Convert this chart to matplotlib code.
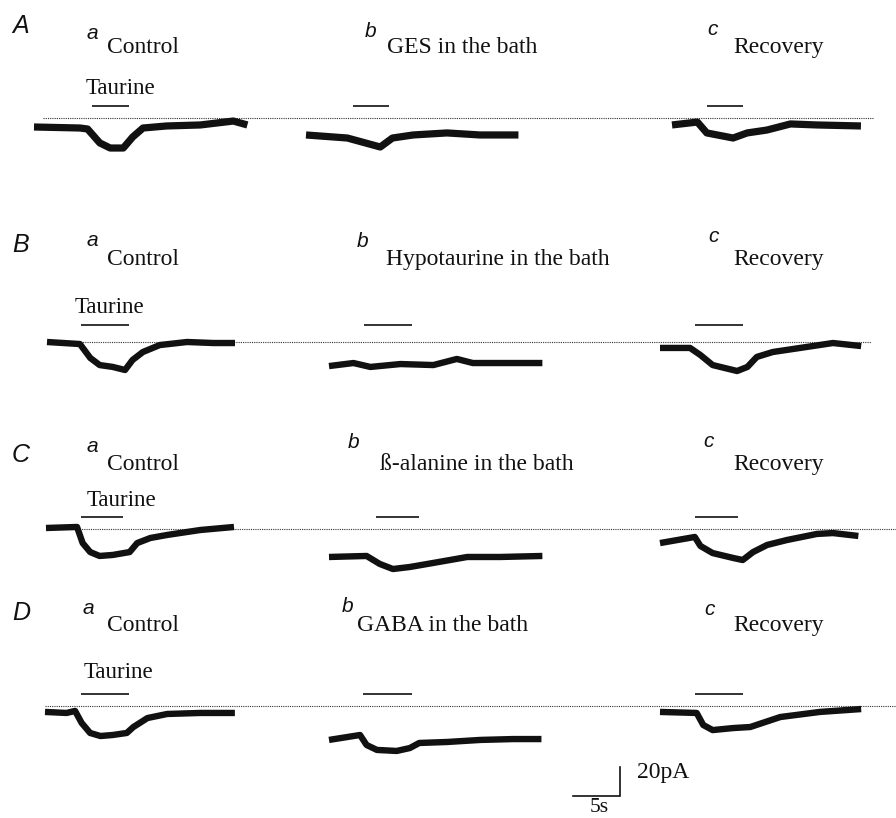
import matplotlib
matplotlib.use("Agg")
import matplotlib.pyplot as plt
import numpy as np

# ---------------- data (time in s from trace start, current in pA re. baseline) -------------
row_labels = ["A", "B", "C", "D"]
col_letters = ["a", "b", "c"]
bath_conditions = ["GES in the bath", "Hypotaurine in the bath",
                   "ß-alanine in the bath", "GABA in the bath"]
control_label = "Control"
recovery_label = "Recovery"
drug_label = "Taurine"

# Row A
A_a_t = [0, 4.9, 5.7, 7.0, 8.1, 9.5, 10.5, 11.6, 14.1, 17.7, 21.2, 22.7]
A_a_i = [-6.2, -6.9, -7.6, -17.2, -20.7, -20.7, -13.1, -6.9, -5.5, -4.8, -2.1, -4.8]
A_b_t = [0, 4.4, 7.9, 9.2, 11.4, 15.0, 18.5, 22.6]
A_b_i = [-11.7, -13.8, -20.0, -13.8, -11.7, -10.3, -11.7, -11.7]
A_c_t = [0, 2.7, 3.7, 6.5, 8.0, 10.1, 12.6, 15.4, 20.1]
A_c_i = [-4.8, -2.8, -10.3, -13.8, -10.3, -8.3, -4.1, -4.8, -5.5]
# Row B
B_a_t = [0, 3.5, 4.6, 5.6, 7.0, 8.3, 9.1, 10.2, 12.0, 14.9, 17.7, 20.0]
B_a_i = [0, -1.4, -11.0, -15.9, -17.2, -19.3, -12.4, -6.9, -2.1, 0, -0.7, -0.7]
B_b_t = [0, 2.6, 4.4, 7.6, 11.1, 13.6, 15.3, 18.2, 22.7]
B_b_i = [-16.6, -14.5, -17.2, -15.2, -15.9, -11.7, -14.5, -14.5, -14.5]
B_c_t = [0, 3.2, 4.3, 5.6, 8.2, 9.3, 10.3, 12.0, 14.9, 18.4, 21.4]
B_c_i = [-4.1, -4.1, -9.0, -15.9, -20.0, -17.2, -10.3, -6.9, -4.1, -0.7, -2.8]
# Row C
C_a_t = [0, 3.3, 3.9, 4.7, 5.7, 7.1, 8.9, 9.7, 11.1, 12.9, 16.4, 20.0]
C_a_i = [0.7, 1.4, -9.7, -15.9, -18.6, -17.9, -15.9, -9.7, -6.2, -4.1, -0.7, 1.4]
C_b_t = [0, 4.0, 5.4, 6.8, 8.6, 11.1, 14.7, 18.2, 22.7]
C_b_i = [-19.3, -18.6, -24.1, -27.6, -26.2, -23.4, -19.3, -19.3, -18.6]
C_c_t = [0, 3.7, 4.3, 5.6, 7.8, 8.8, 9.9, 11.4, 13.5, 16.7, 18.4, 21.1]
C_c_i = [-9.7, -5.5, -11.7, -16.6, -20.0, -21.4, -15.9, -11.0, -7.6, -3.4, -2.8, -4.8]
# Row D
D_a_t = [0, 2.3, 3.2, 3.9, 4.8, 5.9, 7.2, 8.7, 9.4, 10.9, 13.0, 16.5, 20.2]
D_a_i = [-4.1, -4.8, -3.4, -11.7, -18.6, -20.7, -20.0, -18.6, -14.5, -8.3, -5.5, -4.8, -4.8]
D_b_t = [0, 3.3, 4.0, 5.1, 7.2, 8.6, 9.6, 12.6, 16.1, 19.6, 22.6]
D_b_i = [-23.4, -20.0, -26.9, -30.3, -31.0, -29.0, -25.5, -24.8, -23.4, -22.8, -22.8]
D_c_t = [0, 3.9, 4.6, 5.6, 7.8, 9.6, 12.8, 17.0, 21.4]
D_c_i = [-4.1, -4.8, -13.1, -16.6, -15.2, -14.5, -7.6, -4.1, -2.1]

# taurine application (on, off) in s from trace start
A_bars = [(6.2, 10.1), (5.0, 8.8), (3.7, 7.6)]
B_bars = [(3.6, 8.7), (3.7, 8.8), (3.7, 8.8)]
C_bars = [(3.7, 8.2), (5.0, 9.6), (3.7, 8.3)]
D_bars = [(3.8, 8.9), (3.6, 8.8), (3.7, 8.8)]

scale_time_s = 5
scale_current_pA = 20
scale_labels = ["5s", "20pA"]

traces = [
    [(A_a_t, A_a_i), (A_b_t, A_b_i), (A_c_t, A_c_i)],
    [(B_a_t, B_a_i), (B_b_t, B_b_i), (B_c_t, B_c_i)],
    [(C_a_t, C_a_i), (C_b_t, C_b_i), (C_c_t, C_c_i)],
    [(D_a_t, D_a_i), (D_b_t, D_b_i), (D_c_t, D_c_i)],
]
bars = [A_bars, B_bars, C_bars, D_bars]

# ---------------- layout (pixels) -----------------
W, H = 896, 818
PX_PER_S = 9.4
PX_PER_PA = 1.45
trace_x0 = [[34, 306, 672], [47, 329, 660], [46, 329, 660], [45, 329, 660]]
baseline_y = [118, 342, 529, 706]
dotted_span = [(43, 874), (47, 871), (46, 896), (45, 896)]
bar_gap = [12, 17, 12, 12]
trace_lw = [5.2, 4.6, 4.6, 4.6]

row_lab_pos = [(12, 33), (12, 252), (12, 462), (12, 620)]
letter_pos = [[(87, 39), (365, 37), (707, 35)],
              [(87, 246), (357, 247), (708, 242)],
              [(87, 452), (348, 448), (703, 447)],
              [(83, 614), (342, 612), (704, 615)]]
title_pos = [[(107, 53), (387, 53), (733, 53)],
             [(107, 265), (386, 265), (733, 265)],
             [(107, 470), (380, 470), (733, 470)],
             [(107, 631), (357, 631), (733, 631)]]
drug_pos = [(86, 94), (75, 313), (87, 506), (84, 678)]
scale_corner = (620, 796)

fig = plt.figure(figsize=(W / 100, H / 100), dpi=100)
ax = fig.add_axes([0, 0, 1, 1])
ax.set_xlim(0, W / PX_PER_S)
ax.set_ylim(-H / PX_PER_PA, 0)
ax.axis("off")

def sx(px):
    return px / PX_PER_S

def sy(py):
    return -py / PX_PER_PA

ink = "#111111"
serif = "Liberation Serif"
sans = "Liberation Sans"

for r in range(4):
    y0 = sy(baseline_y[r])
    d0, d1 = dotted_span[r]
    ax.plot([sx(d0), sx(d1)], [y0, y0], color="#333333", lw=0.8,
            linestyle=(0, (1, 1)))
    for c in range(3):
        t, i = traces[r][c]
        x0 = sx(trace_x0[r][c])
        ax.plot(np.array(t) + x0, np.array(i) + y0, color=ink,
                lw=trace_lw[r], solid_joinstyle="round", solid_capstyle="butt")
        on, off = bars[r][c]
        yb = y0 + bar_gap[r] / PX_PER_PA
        ax.plot([x0 + on, x0 + off], [yb, yb], color=ink, lw=1.2,
                solid_capstyle="butt")

def ftext(x, y, s, va="baseline", **kw):
    fig.text(x / W, 1 - y / H, s, ha="left", va=va, **kw)

for r in range(4):
    ftext(*row_lab_pos[r], row_labels[r], family=sans, style="italic",
          fontsize=18, color=ink)
    for c in range(3):
        ftext(*letter_pos[r][c], col_letters[c], family=sans, style="italic",
              fontsize=15, color=ink)
    titles = [control_label, bath_conditions[r], recovery_label]
    for c in range(3):
        ftext(*title_pos[r][c], titles[c], family=serif, fontsize=17, color=ink)
    ftext(*drug_pos[r], drug_label, family=serif, fontsize=16.6, color=ink)

# scale bar
cx, cy = sx(scale_corner[0]), sy(scale_corner[1])
ax.plot([cx - scale_time_s, cx, cx], [cy, cy, cy + scale_current_pA],
        color=ink, lw=1.2, solid_joinstyle="miter")
ftext(590, 817.5, scale_labels[0], va="bottom", family=serif, fontsize=15.5,
      color=ink)
ftext(637, 778, scale_labels[1], family=serif, fontsize=17, color=ink)

fig.savefig("out.png", dpi=100, facecolor="white")
